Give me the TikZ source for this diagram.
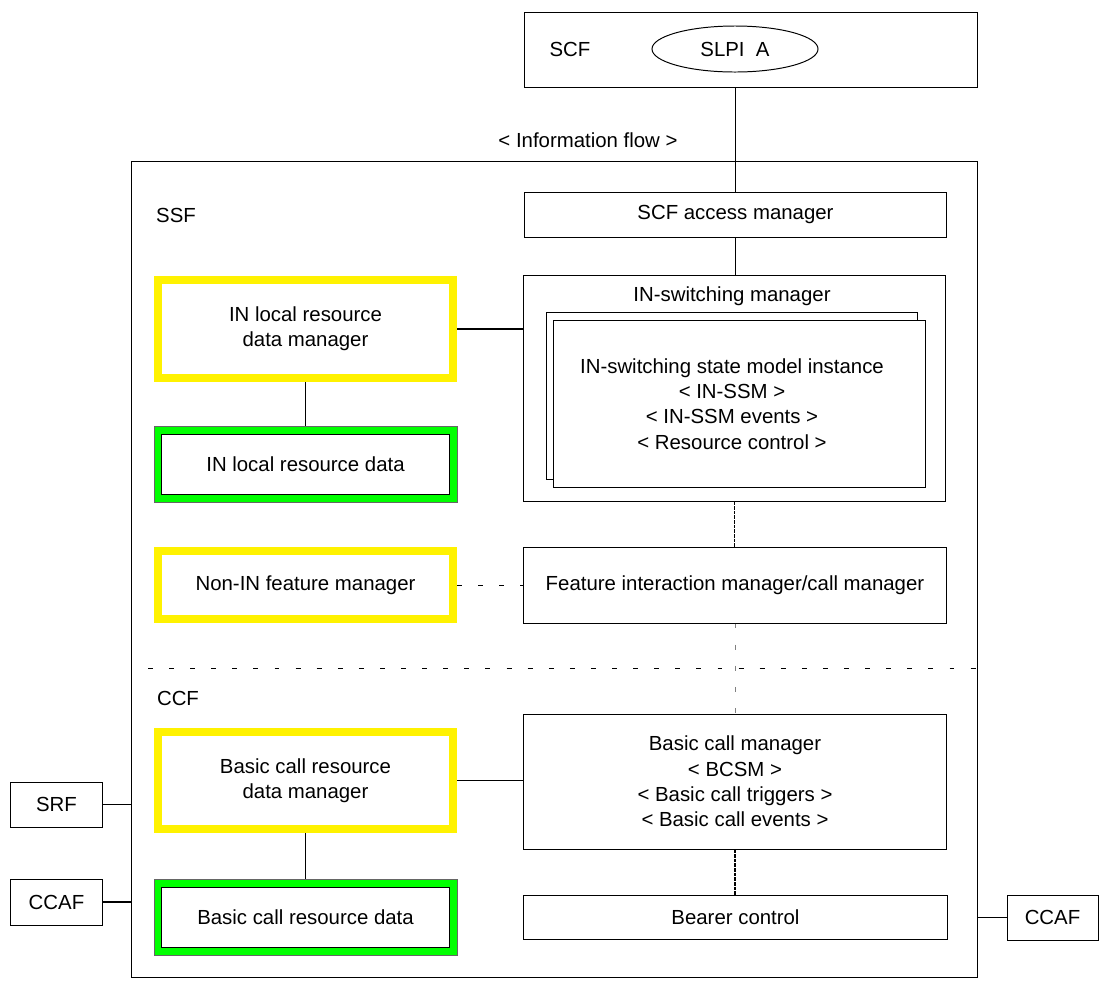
\documentclass[tikz,border=0pt]{standalone}
\usepackage{fontspec}
\setmainfont{Liberation Sans}
\usetikzlibrary{shapes.geometric}
\begin{document}
\begin{tikzpicture}[x=0.025cm, y=-0.025cm,
		every node/.style={font=\fontsize{14.5}{18}\selectfont, align=center},
		box/.style={draw, line width=0.7pt, inner sep=0pt},
		ybox/.style={draw=yellow, line width=0.2cm, inner sep=0pt, minimum width=7.375cm},
		gbox/.style={draw=black!60, fill=green, line width=0.5pt, inner sep=0pt, minimum width=7.575cm, minimum height=1.9cm},
		gin/.style={draw, fill=white, line width=0.7pt, inner sep=0pt, minimum width=7.175cm, minimum height=1.5cm},
		link/.style={line width=1.1pt},
		tight/.style={line width=0.9pt, dash pattern=on 2.5pt off 0.8pt},
		loose/.style={line width=0.6pt, dash pattern=on 3.5pt off 11.5pt}]
	\useasboundingbox (0,0) rectangle (1106,982);
	% SCF on top
	\node[box, minimum width=11.3cm, minimum height=1.875cm] (scf) at (751,49.5) {};
	\node (scflbl) at (570,49) {SCF};
	\node[draw, ellipse, line width=0.7pt, inner sep=0pt, minimum width=4.15cm, minimum height=1.15cm] (slpi) at (735,49) {SLPI~~A};
	\node (flow) at (588,140) {< Information flow >};
	% SSF / CCF frame
	\node[box, minimum width=21.125cm, minimum height=20.375cm] (ssf) at (554.5,569.5) {};
	\node (ssflbl) at (176,215) {SSF};
	\node[box, minimum width=10.525cm, minimum height=1.125cm] (access) at (735.5,214.5) {SCF access manager};
	\node[box, minimum width=10.525cm, minimum height=5.625cm] (insm) at (734.5,388.5) {};
	\node (insmlbl) at (732,296) {IN-switching manager};
	\node[box, minimum width=9.25cm, minimum height=4.15cm] (ssmback) at (732,396) {};
	\node[box, fill=white, minimum width=9.275cm, minimum height=4.15cm] (ssm) at (739.5,404) {};
	\node (ssmtxt) at (732,404) {IN-switching state model instance\\< IN-SSM >\\< IN-SSM events >\\< Resource control >};
	\node[ybox, minimum height=2.45cm] (ilrdm) at (305.5,329) {IN local resource\\data manager};
	\node[gbox] (ilrd) at (305.5,464) {};
	\node[gin] (ilrdin) at (ilrd) {IN local resource data};
	\node[ybox, minimum height=1.7cm] (nonin) at (305.5,585) {Non-IN feature manager};
	\node[box, minimum width=10.55cm, minimum height=1.9cm] (fim) at (735,585) {Feature interaction manager/call manager};
	\coordinate (sepL) at (148,668);
	\node (ccflbl) at (178,698) {CCF};
	\node[ybox, minimum height=2.425cm] (bcrdm) at (305.5,780.5) {Basic call resource\\data manager};
	\node[gbox] (bcrd) at (305.5,917) {};
	\node[gin] (bcrdin) at (bcrd) {Basic call resource data};
	\node[box, minimum width=10.55cm, minimum height=3.375cm] (bcm) at (735,781.5) {Basic call manager\\< BCSM >\\< Basic call triggers >\\< Basic call events >};
	\node[box, minimum width=10.575cm, minimum height=1.1cm] (bearer) at (735.5,917) {Bearer control};
	% outside functions
	\node[box, minimum width=2.275cm, minimum height=1.125cm] (srf) at (56.5,804.5) {SRF};
	\node[box, minimum width=2.275cm, minimum height=1.15cm] (ccafL) at (56.5,902) {CCAF};
	\node[box, minimum width=2.275cm, minimum height=1.125cm] (ccafR) at (1052.5,917.5) {CCAF};
	% connections
	\draw[link] (access.north |- scf.south) -- (access.north);
	\draw[link] (access.south) -- (access.south |- insm.north);
	\draw[link] (ilrdm.east) -- (ilrdm.east -| insm.west);
	\draw[link] (ilrdm) -- (ilrd);
	\draw[tight] (insm.south) -- (insm.south |- fim.north);
	\draw[loose] (nonin.east) -- (nonin.east -| fim.west);
	\draw[loose, gray] (fim.south) -- (fim.south |- bcm.north);
	\draw[loose] (sepL) -- (sepL -| ssf.east);
	\draw[link] (bcrdm.east) -- (bcrdm.east -| bcm.west);
	\draw[link] (bcrdm) -- (bcrd);
	\draw[tight] (bcm.south) -- (bcm.south |- bearer.north);
	\draw[link] (srf.east) -- (srf.east -| ssf.west);
	\draw[link] (ccafL.east) -- (ccafL.east -| ssf.west);
	\draw[link] (ccafR.west) -- (ccafR.west -| ssf.east);
\end{tikzpicture}
\end{document}
